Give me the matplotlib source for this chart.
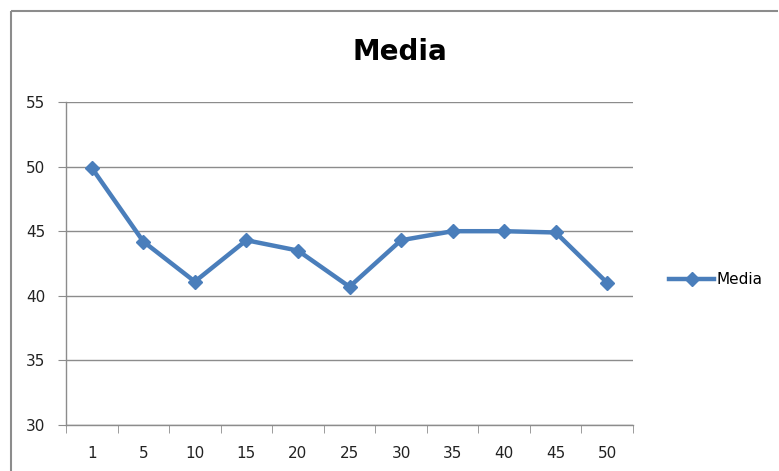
import matplotlib
matplotlib.use("Agg")
import matplotlib.pyplot as plt
from matplotlib.lines import Line2D

categories = ["1", "5", "10", "15", "20", "25", "30", "35", "40", "45", "50"]
media = [49.9, 44.2, 41.1, 44.3, 43.5, 40.7, 44.3, 45.0, 45.0, 44.9, 41.0]
yticks = [30, 35, 40, 45, 50, 55]

plt.rcParams['font.family'] = ['DejaVu Sans']
W, H = 779, 471
fig = plt.figure(figsize=(W / 100, H / 100), dpi=100)

# chart area border (partially visible: top and left)
bx, by = 11 / W, 1 - 11 / H
fig.lines.append(Line2D([bx, bx], [0, by], transform=fig.transFigure, color="#8c8c8c",
                        linewidth=1.5, solid_capstyle="butt"))
fig.lines.append(Line2D([bx, 1 - 1 / W], [by, by], transform=fig.transFigure, color="#8c8c8c",
                        linewidth=1.5, solid_capstyle="butt"))

left, right, top, bottom = 66, 633, 102, 425
ax = fig.add_axes([left / W, 1 - bottom / H, (right - left) / W, (bottom - top) / H])

x = list(range(len(categories)))
color = "#4a7ebb"
ax.plot(x, media, color=color, linewidth=3.2, marker="D", markersize=7.5,
        markeredgecolor=color, markerfacecolor=color, label="Media", zorder=3)

ax.set_xlim(-0.5, len(categories) - 0.5)
ax.set_ylim(30, 55)
ax.set_yticks(yticks)
ax.set_yticklabels([str(v) for v in yticks], fontsize=11, color="#222222")
ax.set_xticks(x)
ax.set_xticklabels(categories, fontsize=11, color="#222222")
ax.tick_params(axis="x", length=0, pad=15)
ax.set_xticks([i - 0.5 for i in range(len(categories) + 1)], minor=True)
ax.tick_params(axis="x", which="minor", length=6, color="#8c8c8c", direction="out")
ax.tick_params(axis="y", length=6, color="#8c8c8c", direction="out", pad=9)

ax.grid(axis="y", color="#8c8c8c", linewidth=1.0)
ax.set_axisbelow(True)
for s in ["top", "right"]:
    ax.spines[s].set_visible(False)
for s in ["left", "bottom"]:
    ax.spines[s].set_color("#8c8c8c")
    ax.spines[s].set_linewidth(1.0)

fig.text(400 / W, 1 - 52 / H, "Media", ha="center", va="center", fontsize=20,
         fontweight="bold", color="black")

leg = fig.legend(loc="center left", bbox_to_anchor=(661 / W, 1 - 280 / H), frameon=False,
                 fontsize=11, handlelength=3.0, handletextpad=0.1, borderpad=0)

fig.savefig("out.png", dpi=100)
